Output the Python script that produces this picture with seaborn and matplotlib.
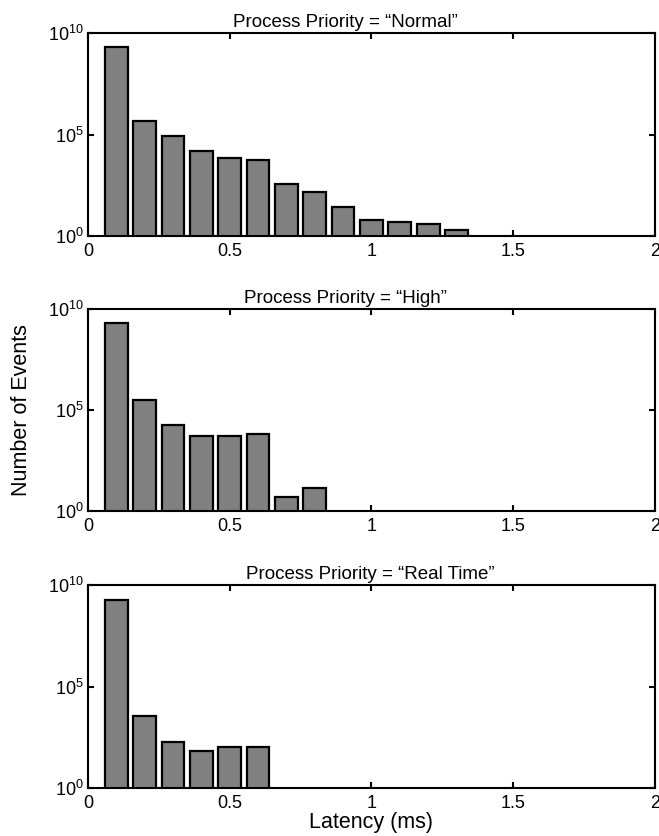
import matplotlib
matplotlib.use("Agg")
import matplotlib.pyplot as plt
import pandas as pd
import seaborn as sns
from matplotlib.ticker import FixedLocator, FixedFormatter, NullLocator

# Histogram bin centres (ms) and event counts per bin for each priority class
latency_normal = [0.1, 0.2, 0.3, 0.4, 0.5, 0.6, 0.7, 0.8, 0.9, 1.0, 1.1, 1.2, 1.3]
counts_normal = [2.0e9, 4.6e5, 8.9e4, 1.6e4, 6.6e3, 5.4e3, 370, 155, 26, 6, 5, 4, 2]

latency_high = [0.1, 0.2, 0.3, 0.4, 0.5, 0.6, 0.7, 0.8]
counts_high = [1.95e9, 3.1e5, 1.9e4, 5.0e3, 5.0e3, 6.3e3, 5, 14]

latency_realtime = [0.1, 0.2, 0.3, 0.4, 0.5, 0.6]
counts_realtime = [1.8e9, 3.5e3, 180, 69, 100, 100]

titles = ["Process Priority = \u201cNormal\u201d",
          "Process Priority = \u201cHigh\u201d",
          "Process Priority = \u201cReal Time\u201d"]
title_x = [0.454, 0.454, 0.497]

x_ticks = [0, 0.5, 1, 1.5, 2]
x_tick_labels = ["0", "0.5", "1", "1.5", "2"]
y_ticks = [1, 1e5, 1e10]
y_tick_labels = [r"$\mathregular{10^{0}}$", r"$\mathregular{10^{5}}$", r"$\mathregular{10^{10}}$"]

sns.set_style("ticks", {"xtick.direction": "in", "ytick.direction": "in",
                        "axes.edgecolor": "black", "text.color": "black",
                        "axes.labelcolor": "black", "xtick.color": "black",
                        "ytick.color": "black"})
plt.rcParams["font.family"] = ["Liberation Sans", "DejaVu Sans"]
plt.rcParams["axes.linewidth"] = 1.5

fig = plt.figure(figsize=(6.59, 8.36), dpi=100)

panels = [
    (latency_normal, counts_normal, [0.1335, 0.7177, 0.8604, 0.2428]),
    (latency_high, counts_high, [0.1335, 0.3888, 0.8604, 0.2416]),
    (latency_realtime, counts_realtime, [0.1335, 0.0574, 0.8604, 0.2428]),
]

axes = []
for i, (lat, cnt, rect) in enumerate(panels):
    ax = fig.add_axes(rect)
    df = pd.DataFrame({"latency": lat, "count": cnt})
    sns.barplot(data=df, x="latency", y="count", native_scale=True, width=0.8,
                color="#808080", saturation=1, edgecolor="black", linewidth=1.6,
                errorbar=None, ax=ax)
    ax.set_yscale("log")
    ax.set_xlim(0, 2)
    ax.set_ylim(1, 1e10)
    ax.xaxis.set_major_locator(FixedLocator(x_ticks))
    ax.xaxis.set_major_formatter(FixedFormatter(x_tick_labels))
    ax.yaxis.set_major_locator(FixedLocator(y_ticks))
    ax.yaxis.set_major_formatter(FixedFormatter(y_tick_labels))
    ax.yaxis.set_minor_locator(NullLocator())
    ax.xaxis.set_minor_locator(NullLocator())
    ax.tick_params(axis="both", which="major", direction="in", length=4, width=1.5,
                   top=True, right=True, labelsize=13, colors="black")
    ax.tick_params(axis="x", pad=5)
    ax.tick_params(axis="y", pad=3)
    for s in ax.spines.values():
        s.set_visible(True)
        s.set_linewidth(1.5)
        s.set_color("black")
    ax.set_title(titles[i], x=title_x[i], pad=4, fontsize=13.5, color="black")
    ax.set_xlabel("")
    ax.set_ylabel("")
    axes.append(ax)

axes[1].set_ylabel("Number of Events", fontsize=15.5, color="black")
axes[1].yaxis.set_label_coords(-0.099, 0.5)
axes[2].set_xlabel("Latency (ms)", fontsize=15.5, color="black")
axes[2].xaxis.set_label_coords(0.5, -0.12)

fig.savefig("out.png", dpi=100)
